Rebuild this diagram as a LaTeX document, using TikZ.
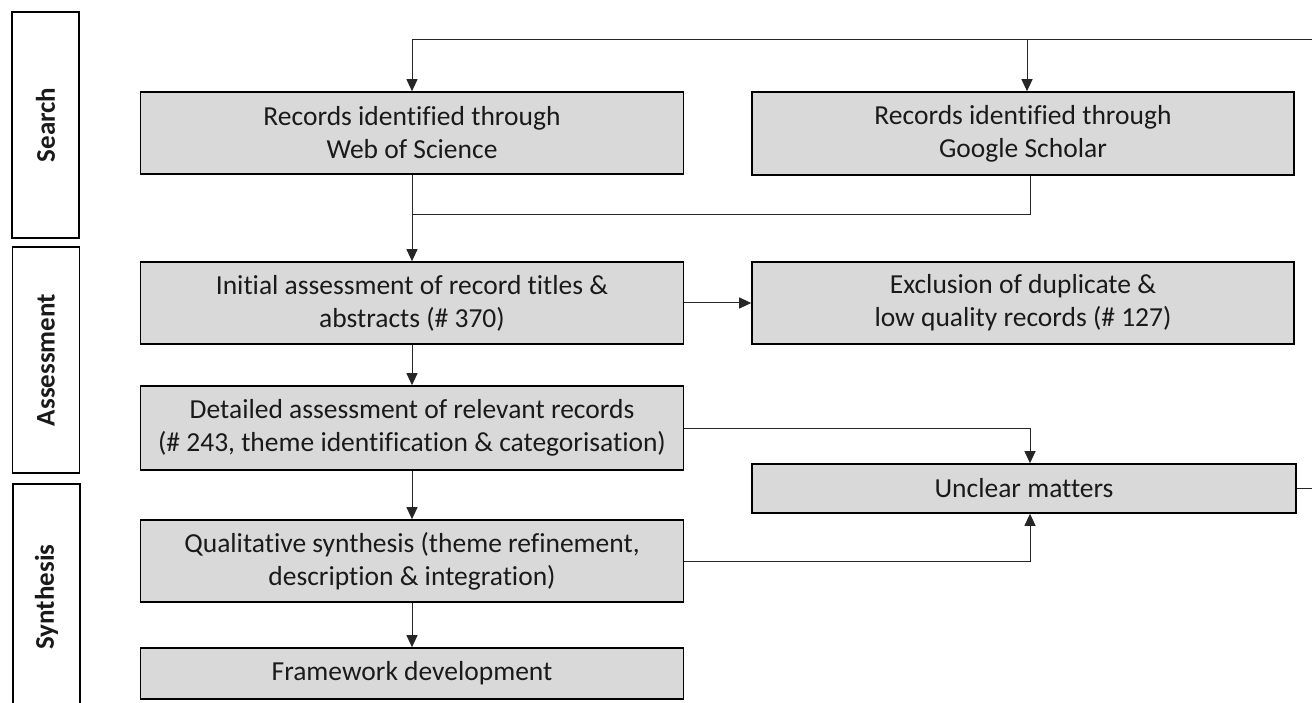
\documentclass[tikz,border=0pt]{standalone}
\usepackage{fontspec}
\setmainfont{Carlito}[Ligatures={NoCommon}]
\usetikzlibrary{arrows.meta,calc}
\definecolor{boxgray}{HTML}{D9D9D9}
\definecolor{txt}{HTML}{1A1A1A}
\tikzset{
  procbox/.style={draw=black, line width=1.6pt, fill=boxgray, align=center,
    text=txt, font=\fontsize{27.5}{33}\selectfont, inner sep=0pt},
  stagebox/.style={draw=black, line width=1.8pt, fill=white, rotate=90,
    minimum width=226pt, minimum height=67pt, inner sep=0pt,
    text=txt, font=\fontsize{27}{33}\selectfont\bfseries},
  conn/.style={line width=1pt, draw=black!85},
  arr/.style={conn, -{Triangle[width=11pt,length=12pt]}}
}
\begin{document}
\begin{tikzpicture}[x=1pt,y=-1pt]
\useasboundingbox (0,0) rectangle (1312,703);
% stage boxes
\node[stagebox] (search) at (45.5,125) {Search};
\node[stagebox] (assess) at (46,360) {Assessment};
\node[stagebox] (synth) at (46.5,597) {Synthesis};
% process boxes, left column
\node[procbox, minimum width=543pt, minimum height=82pt] (wos) at (412,133) {Records identified through\\Web of Science};
\node[procbox, minimum width=543pt, minimum height=82pt] (init) at (412,303) {Initial assessment of record titles \&\\abstracts (\# 370)};
\node[procbox, minimum width=543pt, minimum height=84pt] (det) at (412,428) {Detailed assessment of relevant records\\(\# 243, theme identification \& categorisation)};
\node[procbox, minimum width=543pt, minimum height=82pt] (qual) at (412,561) {Qualitative synthesis (theme refinement,\\description \& integration)};
\node[procbox, minimum width=543pt, minimum height=51pt] (frame) at (412,673.5) {Framework development};
% right column
\node[procbox, minimum width=542pt, minimum height=83pt] (gs) at (1023,133.5) {Records identified through\\Google Scholar};
\node[procbox, minimum width=542pt, minimum height=82pt] (excl) at (1023,303) {Exclusion of duplicate \&\\low quality records (\# 127)};
\node[procbox, minimum width=544pt, minimum height=49pt] (unc) at (1024,488.5) {Unclear matters};
% free ends at the right edge
\coordinate (topright) at (1312,40);
\coordinate (uncright) at (1312,488.5);
\coordinate (join) at (412,215);
% connectors
\draw[arr] (topright) -| (wos.north);
\draw[arr] (topright) -| ([xshift=4pt]gs.north);
\draw[conn] ([xshift=7pt]gs.south) |- (join);
\draw[arr] (wos.south) -- (init.north);
\draw[arr] (init.east) -- (excl.west);
\draw[arr] (init.south) -- (det.north);
\draw[arr] (det.south) -- (qual.north);
\draw[arr] (qual.south) -- (frame.north);
\draw[arr] (det.east) -| ([xshift=6pt]unc.north);
\draw[arr] (qual.east) -| ([xshift=6pt]unc.south);
\draw[conn] (unc.east) -- (uncright);
\end{tikzpicture}
\end{document}
